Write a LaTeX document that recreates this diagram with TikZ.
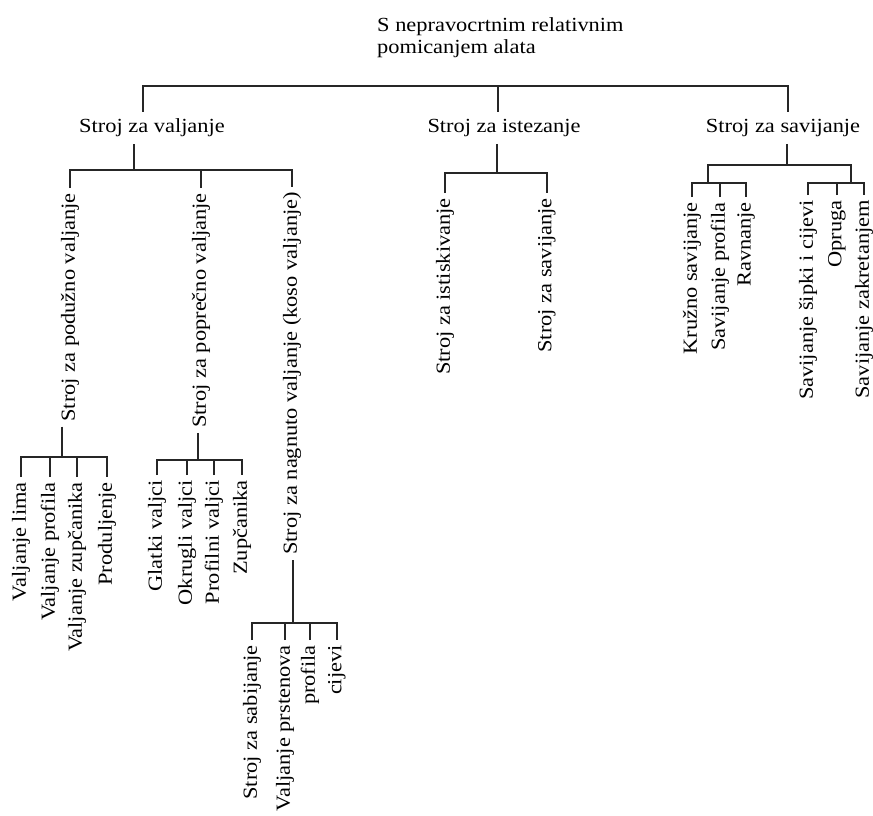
\documentclass[tikz,border=0pt]{standalone}
\usepackage{fontspec}
\setmainfont[FakeStretch=1.12]{Liberation Serif}
\tikzset{
  txt/.style={font=\fontsize{20}{22}\selectfont},
  head/.style={txt,inner xsep=2pt,inner ysep=7pt},
  leaf/.style={txt,rotate=90,anchor=east,inner xsep=5pt,inner ysep=1pt},
  link/.style={line width=1.1pt,draw=black!85}
}

\begin{document}
\begin{tikzpicture}[x=1pt,y=-1pt]
  \useasboundingbox (0,0) rectangle (873,816);
  \node[txt,align=left,anchor=north west,inner sep=0pt] (title) at (377,17) {S nepravocrtnim relativnim\\pomicanjem alata};

  % first level
  \node[head] (valj) at (152,128) {Stroj za valjanje};
  \node[head] (istez) at (504,128) {Stroj za istezanje};
  \node[head] (sav) at (783,128) {Stroj za savijanje};
  \coordinate (topbar) at (498,86);
  \draw[link] ([xshift=-9pt]valj.north) |- (topbar) -| ([xshift=5pt]sav.north);
  \draw[link] (topbar) -- (istez.north -| topbar);

  % valjanje
  \node[leaf] (pod) at (70,188) {Stroj za podužno valjanje};
  \node[leaf] (pop) at (201,188) {Stroj za poprečno valjanje};
  \node[leaf] (nag) at (292,187) {Stroj za nagnuto valjanje (koso valjanje)};
  \coordinate (valjbar) at (134,170);
  \draw[link] (valj.south -| valjbar) -- (valjbar);
  \draw[link] (pod.east) |- (valjbar) -| (nag.east);
  \draw[link] (pop.east) -- (pop.east |- valjbar);

  \foreach \n/\x/\t in {pl1/21/Valjanje lima,pl2/50/Valjanje profila,pl3/77/Valjanje zupčanika,pl4/107/Produljenje}
    \node[leaf] (\n) at (\x,477) {\t};
  \coordinate (podbar) at (62,457);
  \draw[link] (pod.west -| podbar) -- (podbar);
  \draw[link] (pl1.east) |- (podbar) -| (pl4.east);
  \foreach \n in {pl2,pl3}
    \draw[link] (\n.east) -- (\n.east |- podbar);

  \foreach \n/\x/\t in {pp1/157/Glatki valjci,pp2/187/Okrugli valjci,pp3/214/Profilni valjci,pp4/242/Zupčanika}
    \node[leaf] (\n) at (\x,475) {\t};
  \coordinate (popbar) at (198,460);
  \draw[link] (pop.west -| popbar) -- (popbar);
  \draw[link] (pp1.east) |- (popbar) -| (pp4.east);
  \foreach \n in {pp2,pp3}
    \draw[link] (\n.east) -- (\n.east |- popbar);

  \foreach \n/\x/\t in {pn1/252/Stroj za sabijanje,pn2/285/Valjanje prstenova,pn3/310/profila,pn4/337/cijevi}
    \node[leaf] (\n) at (\x,640) {\t};
  \coordinate (nagbar) at (293,623);
  \draw[link] (nag.west -| nagbar) -- (nagbar);
  \draw[link] (pn1.east) |- (nagbar) -| (pn4.east);
  \foreach \n in {pn2,pn3}
    \draw[link] (\n.east) -- (\n.east |- nagbar);

  % istezanje
  \node[leaf] (is1) at (445,193) {Stroj za istiskivanje};
  \node[leaf] (is2) at (547,193) {Stroj za savijanje};
  \coordinate (istbar) at (497,173);
  \draw[link] (istez.south -| istbar) -- (istbar);
  \draw[link] (is1.east) |- (istbar) -| (is2.east);

  % savijanje
  \foreach \n/\x/\t in {sv1/692/Kružno savijanje,sv2/720/Savijanje profila,sv3/746/Ravnanje}
    \node[leaf] (\n) at (\x,197) {\t};
  \foreach \n/\x/\t in {sv4/808/Savijanje šipki i cijevi,sv5/837/Opruga,sv6/864/Savijanje zakretanjem}
    \node[leaf] (\n) at (\x,195) {\t};
  \coordinate (savbar) at (787,165);
  \coordinate (savl) at (708,183);
  \coordinate (savr) at (851,183);
  \draw[link] (sav.south -| savbar) -- (savbar);
  \draw[link] (savl) |- (savbar) -| (savr);
  \draw[link] (sv1.east) |- (savl) -| (sv3.east);
  \draw[link] (sv2.east) -- (sv2.east |- savl);
  \draw[link] (sv4.east) |- (savr) -| (sv6.east);
  \draw[link] (sv5.east) -- (sv5.east |- savr);
\end{tikzpicture}
\end{document}
